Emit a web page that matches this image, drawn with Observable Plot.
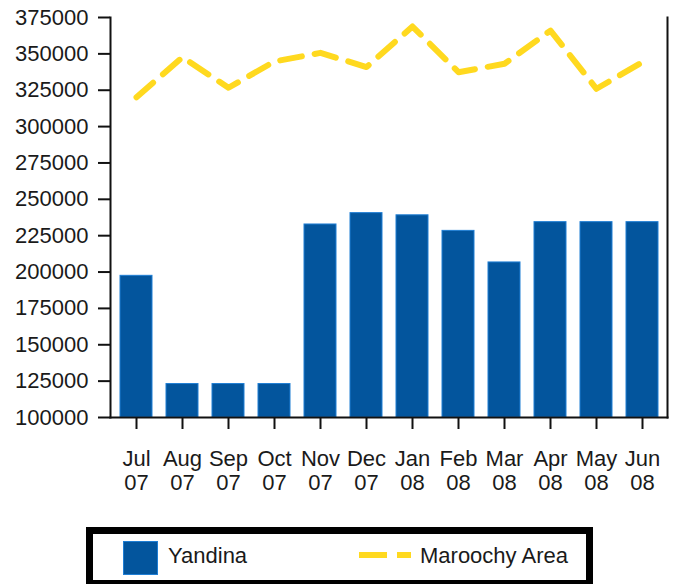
<!DOCTYPE html>
<html>
<head>
<meta charset="utf-8">
<script src="https://cdn.jsdelivr.net/npm/d3@7"></script>
<script src="https://cdn.jsdelivr.net/npm/@observablehq/plot@0.6"></script>
<style>
  html, body { margin: 0; padding: 0; background: #fff; }
  #wrap { position: relative; width: 676px; height: 584px; font-family: "Liberation Sans", Arial, sans-serif; color: #1a1a1a; }
  #legend { position: absolute; left: 86px; top: 527px; width: 507px; height: 60px; border: 7px solid #000; box-sizing: border-box; background: #fff; }
  .lg { position: absolute; font-size: 22px; line-height: 22px; }
</style>
</head>
<body>
<div id="wrap">
  <div id="chart"></div>
  <div id="legend">
    <svg class="lg" style="left:30px;top:7px" width="36" height="35"><rect x="0.5" y="0.5" width="34" height="33" fill="#03559D" stroke="#1F7ED4" stroke-width="1"/></svg>
    <div class="lg" style="left:75px;top:11px">Yandina</div>
    <svg class="lg" style="left:266px;top:17px" width="54" height="8"><line x1="0" y1="4" x2="52" y2="4" stroke="#FFD91F" stroke-width="6" stroke-dasharray="28,10"/></svg>
    <div class="lg" style="left:327px;top:11px">Maroochy Area</div>
  </div>
</div>
<script>
const months = ["Jul","Aug","Sep","Oct","Nov","Dec","Jan","Feb","Mar","Apr","May","Jun"];
const years  = ["07","07","07","07","07","07","08","08","08","08","08","08"];
const yandina  = [197400, 123000, 123000, 123000, 232700, 240500, 239000, 228300, 206600, 234300, 234300, 234300];
const maroochy = [320200, 347700, 326700, 344800, 350700, 340900, 368800, 337400, 343200, 366000, 326000, 344300];
const yTicks = [100000,125000,150000,175000,200000,225000,250000,275000,300000,325000,350000,375000];

const keys = months.map((m, i) => m + " " + years[i]);
const rows = keys.map((k, i) => ({key: k, month: months[i], year: years[i], yandina: yandina[i], maroochy: maroochy[i]}));
const labelOf = Object.fromEntries(rows.map(r => [r.key, r.month + "\n" + r.year]));

const chart = Plot.plot({
  width: 676,
  height: 505,
  marginLeft: 110,
  marginRight: 9,
  marginTop: 17,
  marginBottom: 88,
  style: {fontFamily: "'Liberation Sans', Arial, sans-serif", fontSize: "22px", color: "#1a1a1a", background: "#fff"},
  x: {domain: keys, paddingInner: 0.31, paddingOuter: 0.155, label: null},
  y: {domain: [100000, 375000], label: null},
  marks: [
    Plot.barY(rows, {x: "key", y1: 100000, y2: "yandina", fill: "#03559D", stroke: "#1F7ED4", strokeWidth: 1}),
    Plot.line(rows, {x: "key", y: "maroochy", stroke: "#FFD91F", strokeWidth: 6, strokeDasharray: "22,13", strokeLinecap: "round", strokeLinejoin: "round"}),
    Plot.frame({anchor: "left", stroke: "#111", strokeWidth: 2}),
    Plot.frame({anchor: "bottom", stroke: "#111", strokeWidth: 2}),
    Plot.frame({anchor: "right", stroke: "#111", strokeWidth: 2}),
    Plot.axisY({ticks: yTicks, tickFormat: d3.format("d"), tickSize: 12, tickPadding: 10, stroke: "#111", strokeWidth: 2, fontSize: 22, label: null}),
    Plot.axisX({tickFormat: d => labelOf[d], tickSize: 12, tickPadding: 19, stroke: "#111", strokeWidth: 2, fontSize: 22, lineHeight: 1.1, label: null})
  ]
});
document.getElementById("chart").appendChild(chart);
</script>
</body>
</html>
